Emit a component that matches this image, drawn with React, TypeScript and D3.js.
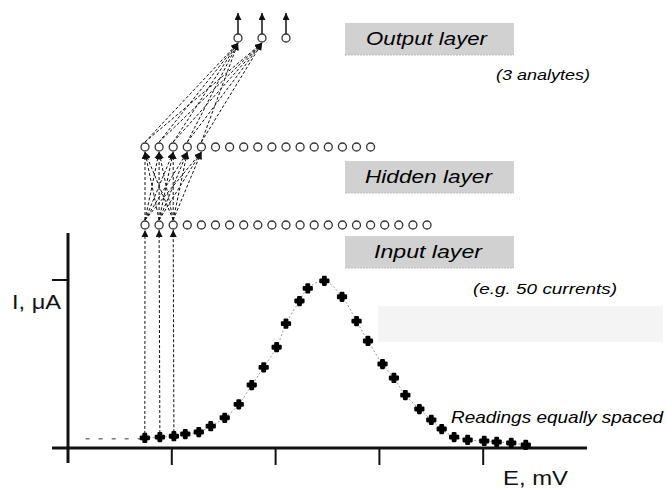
import React from 'react';
import * as d3 from 'd3';

// voltammogram readings (E in tick units, I relative to the tick on the current axis)
const readingE = [0.74, 0.885, 1.02, 1.13, 1.26, 1.375, 1.51, 1.645, 1.77, 1.885, 2.01, 2.1, 2.23, 2.31, 2.47,
  2.64, 2.78, 2.89, 3.03, 3.14, 3.25, 3.385, 3.5, 3.6, 3.72, 3.85, 4.01, 4.13, 4.27, 4.41];
const readingI = [0.06, 0.065, 0.07, 0.083, 0.095, 0.13, 0.18, 0.26, 0.375, 0.48, 0.6, 0.74, 0.875, 0.95, 0.995,
  0.9, 0.755, 0.637, 0.5, 0.417, 0.315, 0.232, 0.167, 0.113, 0.065, 0.048, 0.042, 0.036, 0.03, 0.018];
const baselineE = [0.17, 0.72];
const baselineI = 0.055;

const xTicks = [1, 2, 3, 4];
const yTicks = [1];

// network
const outputCount = 3;
const hiddenCount = 17;
const inputCount = 21;
const wiredInputs = [0, 1, 2];
const wiredHidden = [0, 1, 2, 3, 4];
const wiredOutputs = [0, 1];

const W = 667, H = 488;
const FONT = '"Liberation Sans", Arial, sans-serif';

export default function App() {
  const x = d3.scaleLinear().domain([0, 5]).range([68, 587]);
  const y = d3.scaleLinear().domain([0, 1]).range([448, 280]);

  // node positions
  const nodeX = d3.scaleLinear().domain([0, 20]).range([145, 427]);
  const outX = d3.scaleLinear().domain([0, 2]).range([238, 286]);
  const layerY = d3.scaleOrdinal<string, number>().domain(['output', 'hidden', 'input']).range([38, 147, 225]);
  const r = 4;

  const pts = readingE.map((e, i) => [x(e), y(readingI[i])] as [number, number]);
  const line = d3.line().curve(d3.curveCatmullRom)(pts) || '';
  const marker = d3.symbol(d3.symbolCross, 36)() || '';

  const dashed = { stroke: '#111', strokeWidth: 1, strokeDasharray: '3 2', fill: 'none' };

  const box = (label: string, yTop: number, tx: number, len: number) => (
    <g>
      <rect x={345} y={yTop} width={169} height={32} fill="#d1d1d1" />
      <line x1={345} x2={514} y1={yTop + 32} y2={yTop + 32} stroke="#bdbdbd" strokeDasharray="2 1" />
      <text x={tx} y={yTop + 22} fontFamily={FONT} fontStyle="italic" fontSize={18.5}
        textLength={len} lengthAdjust="spacingAndGlyphs" fill="#000">{label}</text>
    </g>
  );

  return (
    <svg width={W} height={H} style={{ position: 'absolute', left: 0, top: 0, background: '#fff' }}>
      <defs>
        <marker id="head" viewBox="0 0 10 10" refX={10} refY={5} markerWidth={7} markerHeight={7}
          markerUnits="userSpaceOnUse" orient="auto">
          <path d="M0,0 L10,5 L0,10 z" fill="#111" />
        </marker>
      </defs>

      {/* faint background patches */}
      <rect x={378} y={306} width={285} height={36} fill="#f4f4f4" />

      {/* labels */}
      {box('Output layer', 23, 366, 121)}
      {box('Hidden layer', 161, 365, 127)}
      {box('Input layer', 236, 374, 108)}
      <text x={496} y={80} fontFamily={FONT} fontStyle="italic" fontSize={15.5}
        textLength={94} lengthAdjust="spacingAndGlyphs" fill="#000">(3 analytes)</text>
      <text x={473} y={294} fontFamily={FONT} fontStyle="italic" fontSize={15.5}
        textLength={144} lengthAdjust="spacingAndGlyphs" fill="#000">(e.g. 50 currents)</text>
      <text x={451} y={423} fontFamily={FONT} fontStyle="italic" fontSize={16.5}
        textLength={212} lengthAdjust="spacingAndGlyphs" fill="#000">Readings equally spaced</text>

      {/* axes */}
      <line x1={x(0)} x2={x(0)} y1={233} y2={463} stroke="#111" strokeWidth={3} />
      <line x1={52} x2={x(5)} y1={y(0)} y2={y(0)} stroke="#111" strokeWidth={3} />
      {yTicks.map(t => <line key={'y' + t} x1={52} x2={x(0)} y1={y(t)} y2={y(t)} stroke="#111" strokeWidth={2} />)}
      {xTicks.map(t => <line key={'x' + t} x1={x(t)} x2={x(t)} y1={y(0)} y2={465} stroke="#111" strokeWidth={2} />)}
      <text x={12} y={309} fontFamily={FONT} fontSize={21} textLength={49} lengthAdjust="spacingAndGlyphs" fill="#111">I, μA</text>
      <text x={503} y={485} fontFamily={FONT} fontSize={21} textLength={65} lengthAdjust="spacingAndGlyphs" fill="#111">E, mV</text>

      {/* readings curve */}
      <line x1={x(baselineE[0])} x2={x(baselineE[1])} y1={y(baselineI)} y2={y(baselineI)}
        stroke="#777" strokeWidth={1.5} strokeDasharray="4 9" />
      <path d={line} fill="none" stroke="#9a9a9a" strokeWidth={1} strokeDasharray="2 2" />
      {pts.map((p, i) => (
        <path key={i} d={marker} transform={`translate(${p[0]},${p[1]})`} fill="#000"
          stroke="#000" strokeWidth={2.2} strokeLinejoin="round" />
      ))}

      {/* readings → input layer */}
      {wiredInputs.map(i => (
        <line key={'ri' + i} x1={x(readingE[i])} y1={y(readingI[i]) - 4} x2={nodeX(i)} y2={layerY('input') + r + 1}
          {...dashed} markerEnd="url(#head)" />
      ))}

      {/* input → hidden */}
      {wiredInputs.flatMap(i => wiredHidden.map(j => (
        <line key={`ih${i}-${j}`} x1={nodeX(i)} y1={layerY('input') - r - 1} x2={nodeX(j)} y2={layerY('hidden') + r + 1}
          {...dashed} markerEnd="url(#head)" />
      )))}

      {/* hidden → output */}
      {wiredHidden.flatMap(j => wiredOutputs.map(k => (
        <line key={`ho${j}-${k}`} x1={nodeX(j)} y1={layerY('hidden') - r - 1} x2={outX(k)} y2={layerY('output') + r + 1}
          {...dashed} markerEnd="url(#head)" />
      )))}

      {/* output arrows */}
      {d3.range(outputCount).map(k => (
        <line key={'oa' + k} x1={outX(k)} x2={outX(k)} y1={layerY('output') - r} y2={13}
          stroke="#111" strokeWidth={1.5} markerEnd="url(#head)" />
      ))}

      {/* nodes */}
      {d3.range(inputCount).map(i => (
        <circle key={'in' + i} cx={nodeX(i)} cy={layerY('input')} r={r} fill="#fff" stroke="#333" strokeWidth={1.3} />
      ))}
      {d3.range(hiddenCount).map(i => (
        <circle key={'hn' + i} cx={nodeX(i)} cy={layerY('hidden')} r={r} fill="#fff" stroke="#333" strokeWidth={1.3} />
      ))}
      {d3.range(outputCount).map(i => (
        <circle key={'on' + i} cx={outX(i)} cy={layerY('output')} r={r} fill="#fff" stroke="#333" strokeWidth={1.3} />
      ))}
    </svg>
  );
}
